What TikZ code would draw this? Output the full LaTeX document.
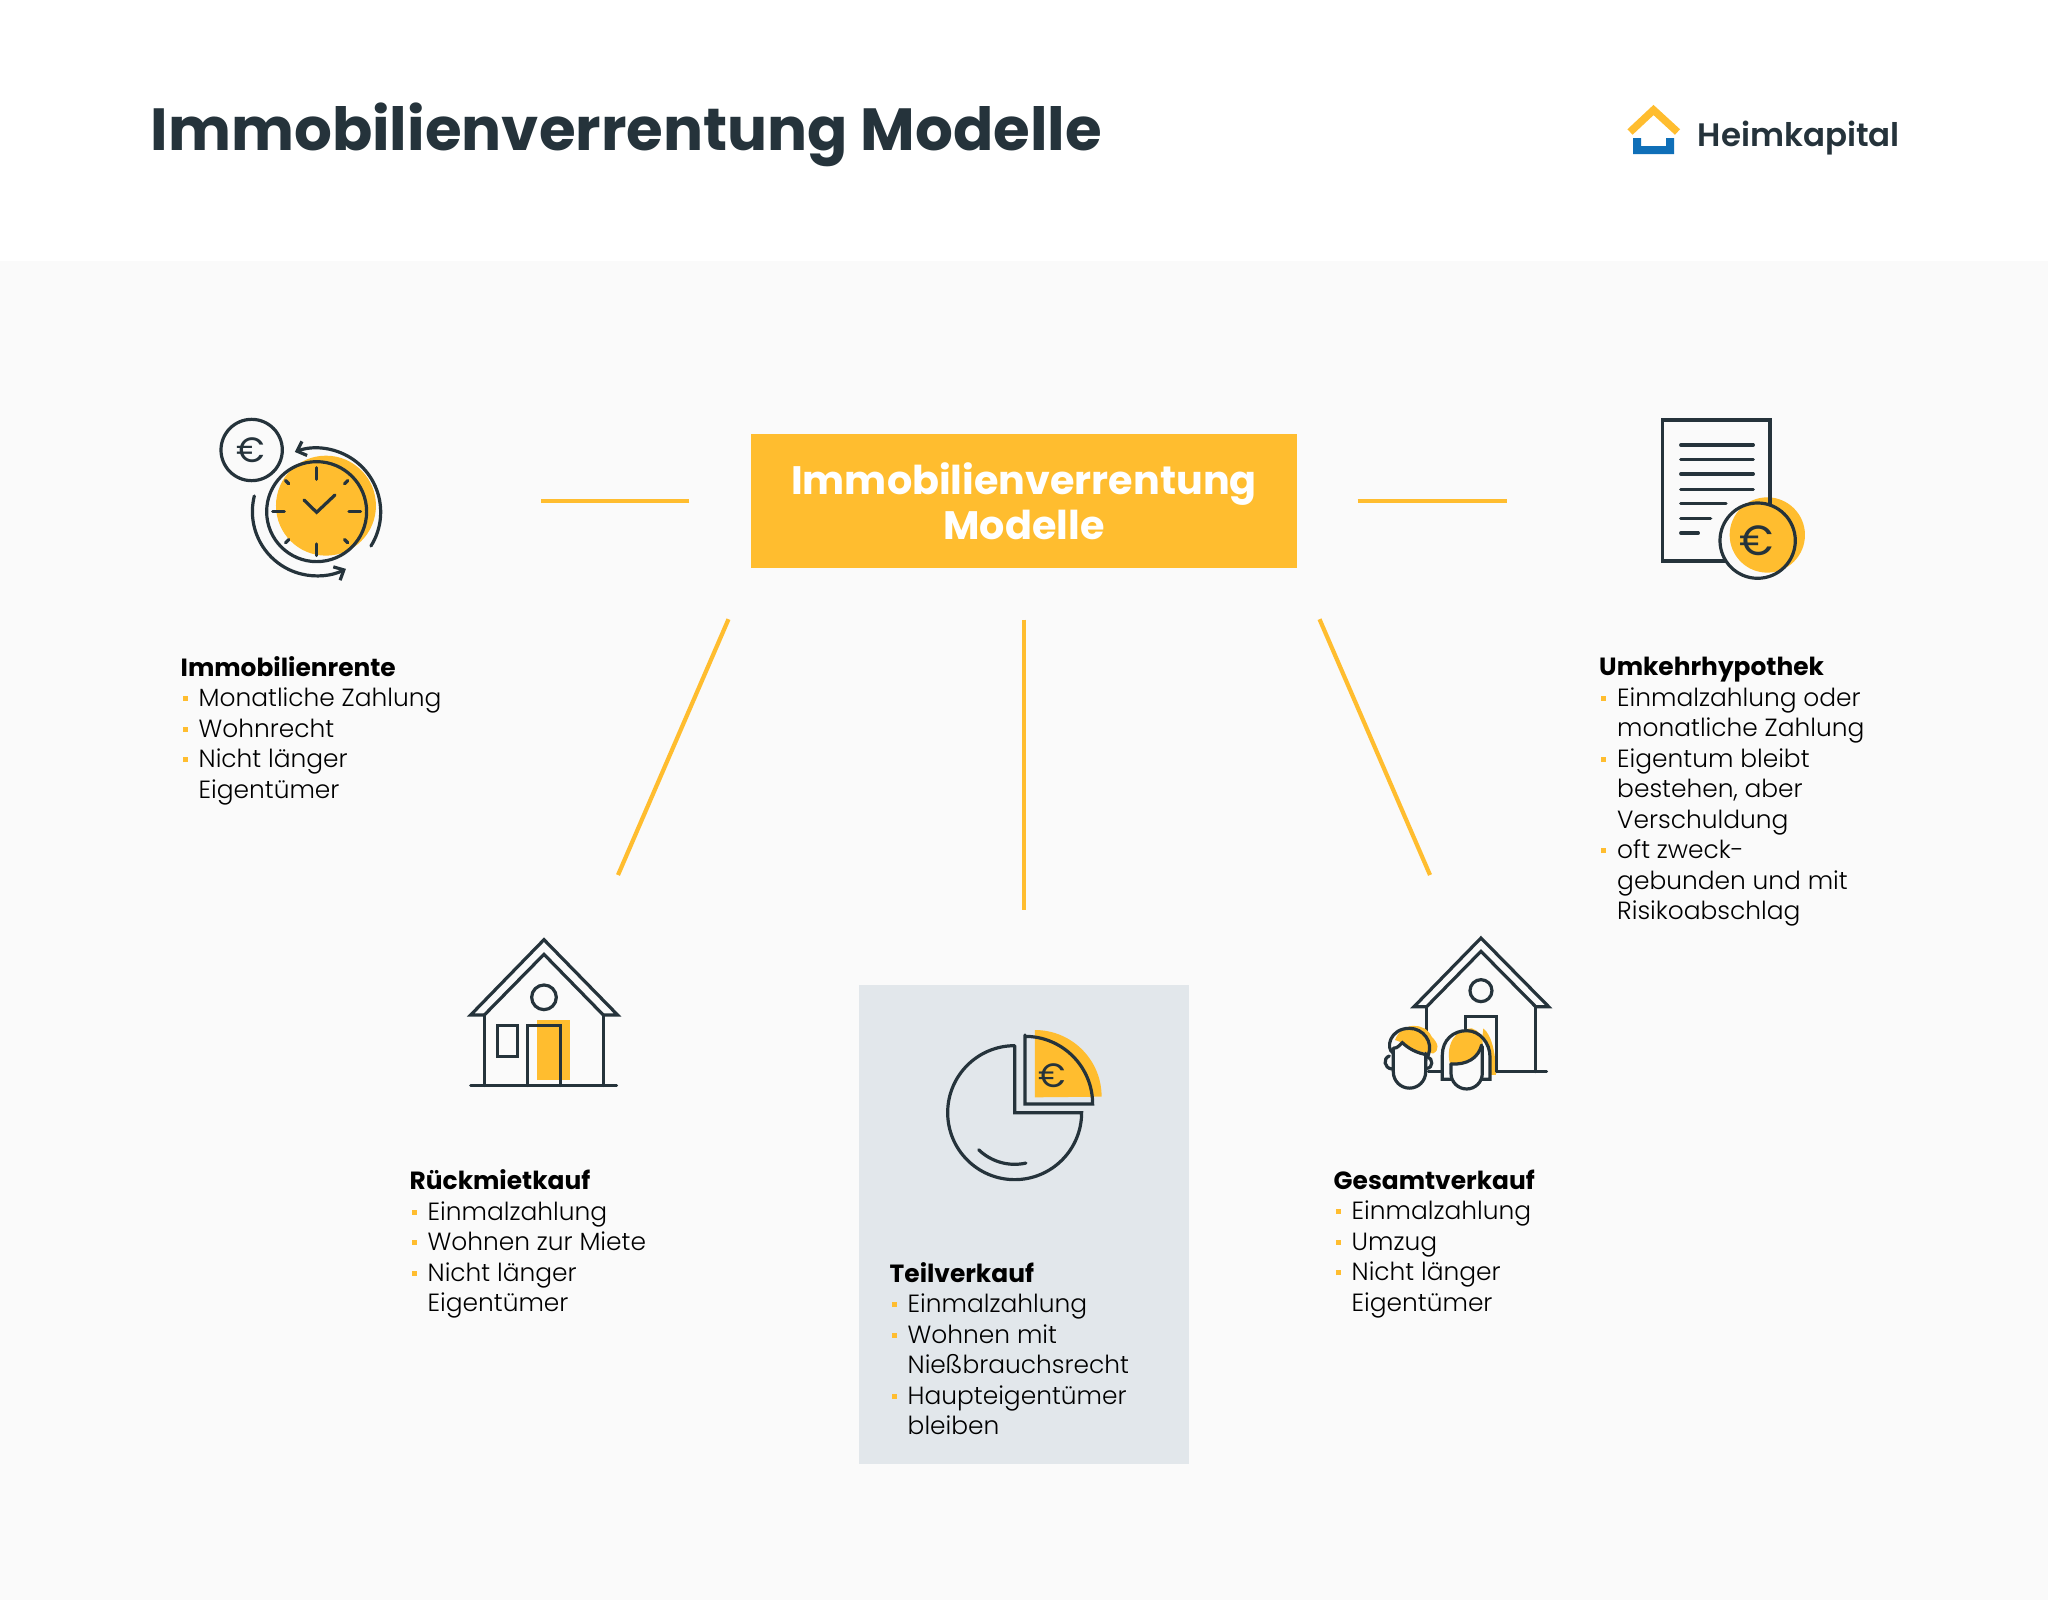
\documentclass[tikz,border=0pt]{standalone}
\usepackage{fontspec}
\usepackage{xcolor}
\usetikzlibrary{arrows.meta,positioning,calc}
\setmainfont{Poppins}
\newfontfamily\boldface{Poppins}[UprightFont=* Bold]
\newfontfamily\lightface{Poppins Light}
\newfontfamily\semiface{Poppins SemiBold}
\definecolor{hkgold}{HTML}{FFBD2F}
\definecolor{hkdark}{HTML}{25333B}
\definecolor{hkblue}{HTML}{0F6FB8}
\definecolor{hkback}{HTML}{FAFAFA}
\definecolor{hkpanel}{HTML}{E2E7EB}
\newcommand{\hkitem}[1]{\makebox[1.8mm][l]{\hspace{0.2mm}\textcolor{hkgold}{\rule[0.55mm]{0.5mm}{0.5mm}}}#1}
\newcommand{\hkcont}[1]{\hspace*{1.8mm}#1}
\tikzset{
  link/.style={hkgold, line width=0.42mm},
  icon/.style={hkdark, line width=0.32mm, line cap=round, line join=miter},
  iconbox/.style={shift={(#1)}, x=0.03333mm, y=0.03333mm},
  listtext/.style={anchor=north west, inner sep=0pt, align=left, text=black,
    font=\lightface\fontsize{7.08pt}{8.68pt}\selectfont},
  euro/.style={text=hkdark, inner sep=0pt, font=\fontsize{#1}{#1}\selectfont}
}
\begin{document}
\begin{tikzpicture}[x=0.1mm, y=0.1mm]
  \useasboundingbox (0,0) rectangle (2048,-1600);
  \fill[white] (0,0) rectangle (2048,-1600);
  \fill[hkback] (0,-261) rectangle (2048,-1600);

  % Title and logo
  \node[anchor=base west, inner sep=0pt, text=hkdark, font=\boldface\fontsize{16.92pt}{18pt}\selectfont] (title) at (150,-150) {Immobilienverrentung Modelle};
  \draw[hkgold, line width=0.75mm] (1630,-132) -- (1653.5,-110) -- (1677.5,-132);
  \fill[hkblue] (1633,-138) -- (1641,-138) -- (1641,-146) -- (1666,-146) -- (1666,-138) -- (1674,-138) -- (1674,-154) -- (1633,-154) -- cycle;
  \node[anchor=base west, inner sep=0pt, text=hkdark, font=\semiface\fontsize{9.24pt}{12pt}\selectfont] (brand) at (1697,-146) {Heimkapital};

  % Centre box
  \node[fill=hkgold, minimum width=54.6mm, minimum height=13.4mm, inner sep=0pt, align=center, text=white,
    font=\boldface\fontsize{11.3pt}{12.7pt}\selectfont] (centre) at (1024,-501) {Immobilienverrentung\\Modelle};

  % Connectors
  \coordinate (renteEnd) at (541,-501);
  \coordinate (hypoEnd) at (1507,-501);
  \coordinate (mieteEnd) at (618,-875);
  \coordinate (teilEnd) at (1024,-910);
  \coordinate (gesamtEnd) at (1430,-875);
  \draw[link, shorten <=6.1mm] (centre.west) -- (renteEnd);
  \draw[link, shorten <=6mm] (centre.east) -- (hypoEnd);
  \draw[link, shorten <=5.5mm] (centre.south west) -- (mieteEnd);
  \draw[link, shorten <=5.1mm] (centre.south) -- (teilEnd);
  \draw[link, shorten <=5.5mm] (centre.south east) -- (gesamtEnd);

  % Panel behind the part sale
  \fill[hkpanel] (859,-985) rectangle (1189,-1464);

  % Clock with coin
  \begin{scope}[iconbox={200,-400}]
    \fill[hkgold] (378,-317) circle (150);
    \draw[icon] (350,-335) circle (150);
    \draw[icon] (155,-150) circle (92);
    \node[euro=10pt] (clockEuro) at (151,-150) {€};
    \foreach \a in {0,90,180,270} {
      \draw[icon] (350,-335) ++(\a:97) -- ++(\a:35);
    }
    \foreach \a in {45,135,225,315} {
      \draw[icon] (350,-335) ++(\a:118) -- ++(\a:14);
    }
    \draw[icon] (312,-300) -- (350,-337) -- (405,-285);
    \draw[icon, -{Straight Barb[length=0.8mm,width=1.5mm]}] (513,-438) arc (-32:110:192);
    \draw[icon, -{Straight Barb[length=0.8mm,width=1.5mm]}] (163,-288) arc (166:297:193);
  \end{scope}

  % Document with coin
  \begin{scope}[iconbox={1640,-400}]
    \draw[icon, line cap=butt] (68,-60) rectangle (390,-483);
    \foreach \y/\e in {135/340,178/340,222/340,268/340,311/258,355/212,399/175} {
      \draw[icon] (122,-\y) -- (\e,-\y);
    }
    \fill[hkback] (353,-422) circle (113);
    \fill[hkgold] (382,-405) circle (113);
    \draw[icon, line cap=butt] (390,-285) -- (390,-315);
    \draw[icon] (353,-422) circle (113);
    \node[euro=12pt] (docEuro) at (350,-423) {€};
  \end{scope}

  % House with door
  \begin{scope}[iconbox={450,-920}]
    \fill[hkgold] (262,-300) rectangle (360,-480);
    \draw[icon] (103,-285) -- (62,-285) -- (282,-59) -- (503,-285) -- (460,-285);
    \draw[icon] (103,-285) -- (282,-103) -- (460,-285);
    \draw[icon] (103,-285) -- (103,-497);
    \draw[icon] (460,-285) -- (460,-497);
    \draw[icon] (62,-497) -- (500,-497);
    \draw[icon] (282,-232) circle (37);
    \draw[icon] (142,-317) rectangle (203,-410);
    \draw[icon] (232,-497) -- (232,-317) -- (332,-317) -- (332,-497);
  \end{scope}

  % Pie with slice
  \begin{scope}[iconbox={930,-1010}]
    \fill[hkgold] (315,-262) -- (315,-60) arc (90:0:200) -- cycle;
    \draw[icon] (285,-75) -- (285,-282) -- (488,-282) arc (0:90:203);
    \draw[icon] (254,-107) -- (254,-308) -- (455,-308) arc (0:-270:201);
    \draw[icon] (254,-308) ++(226:155) arc (226:282.6:155);
    \node[euro=9.6pt] (pieEuro) at (367,-197) {€};
  \end{scope}

  % House with couple
  \begin{scope}[iconbox={1370,-920}]
    \draw[icon] (170,-260) -- (132,-260) -- (333,-54) -- (536,-260) -- (497,-260);
    \draw[icon] (170,-260) -- (333,-94) -- (497,-260);
    \draw[icon] (170,-260) -- (170,-420);
    \draw[icon] (497,-260) -- (497,-455);
    \draw[icon] (175,-455) -- (530,-455);
    \draw[icon] (333,-212) circle (33);
    \fill[hkgold] (340,-325) .. controls (365,-345) and (378,-400) .. (378,-465) -- (355,-465) -- (335,-370) -- cycle;
    \draw[icon] (287,-330) -- (287,-290) -- (380,-290) -- (380,-455);
    % man
    \fill[hkback] (70,-400) .. controls (45,-385) and (60,-325) .. (118,-325) .. controls (160,-325) and (190,-365) .. (175,-405) -- (167,-456) arc (0:-180:48.5) -- cycle;
    \fill[hkgold] (75,-360) .. controls (95,-305) and (165,-305) .. (185,-350) .. controls (205,-370) and (210,-390) .. (190,-400) .. controls (150,-400) and (120,-385) .. (97,-368) -- cycle;
    \draw[icon] (70,-400) .. controls (45,-385) and (60,-325) .. (118,-325) .. controls (160,-325) and (190,-365) .. (175,-405);
    \draw[icon] (70,-385) .. controls (85,-385) and (90,-372) .. (97,-368) .. controls (115,-385) and (140,-400) .. (175,-405);
    \draw[icon] (70,-385) -- (70,-456) arc (180:360:48.5) -- (167,-400);
    \draw[icon] (58,-408) .. controls (38,-415) and (42,-445) .. (66,-447);
    \draw[icon] (172,-410) .. controls (190,-415) and (190,-445) .. (170,-445);
    % woman
    \fill[hkback] (217,-478) -- (217,-405) .. controls (217,-360) and (250,-332) .. (290,-332) .. controls (330,-332) and (360,-370) .. (360,-410) -- (360,-478) -- cycle;
    \fill[hkback] (243,-460) arc (180:360:47) -- cycle;
    \fill[hkgold] (240,-432) .. controls (225,-370) and (260,-325) .. (305,-325) .. controls (325,-330) and (340,-350) .. (338,-375) .. controls (325,-415) and (290,-435) .. (240,-432) -- cycle;
    \draw[icon] (243,-478) -- (217,-478) -- (217,-405) .. controls (217,-360) and (250,-332) .. (290,-332) .. controls (330,-332) and (360,-370) .. (360,-410) -- (360,-478) -- (337,-478);
    \draw[icon] (243,-432) -- (243,-460) arc (180:360:47) -- (337,-380);
    \draw[icon] (243,-432) .. controls (290,-435) and (325,-415) .. (335,-375);
  \end{scope}

  % Lists
  \node[listtext] (rente) at (180,-655.5) {{\boldface Immobilienrente}\\
    \hkitem{Monatliche Zahlung}\\\hkitem{Wohnrecht}\\\hkitem{Nicht länger}\\\hkcont{Eigentümer}};
  \node[listtext] (hypo) at (1598.5,-656.5) {{\boldface Umkehrhypothek}\\
    \hkitem{Einmalzahlung oder}\\\hkcont{monatliche Zahlung}\\\hkitem{Eigentum bleibt}\\\hkcont{bestehen, aber}\\\hkcont{Verschuldung}\\\hkitem{oft zweck-}\\\hkcont{gebunden und mit}\\\hkcont{Risikoabschlag}};
  \node[listtext] (miete) at (409,-1169) {{\boldface Rückmietkauf}\\
    \hkitem{Einmalzahlung}\\\hkitem{Wohnen zur Miete}\\\hkitem{Nicht länger}\\\hkcont{Eigentümer}};
  \node[listtext] (teil) at (889,-1261.5) {{\boldface Teilverkauf}\\
    \hkitem{Einmalzahlung}\\\hkitem{Wohnen mit}\\\hkcont{Nießbrauchsrecht}\\\hkitem{Haupteigentümer}\\\hkcont{bleiben}};
  \node[listtext] (gesamt) at (1333,-1169) {{\boldface Gesamtverkauf}\\
    \hkitem{Einmalzahlung}\\\hkitem{Umzug}\\\hkitem{Nicht länger}\\\hkcont{Eigentümer}};
\end{tikzpicture}
\end{document}
